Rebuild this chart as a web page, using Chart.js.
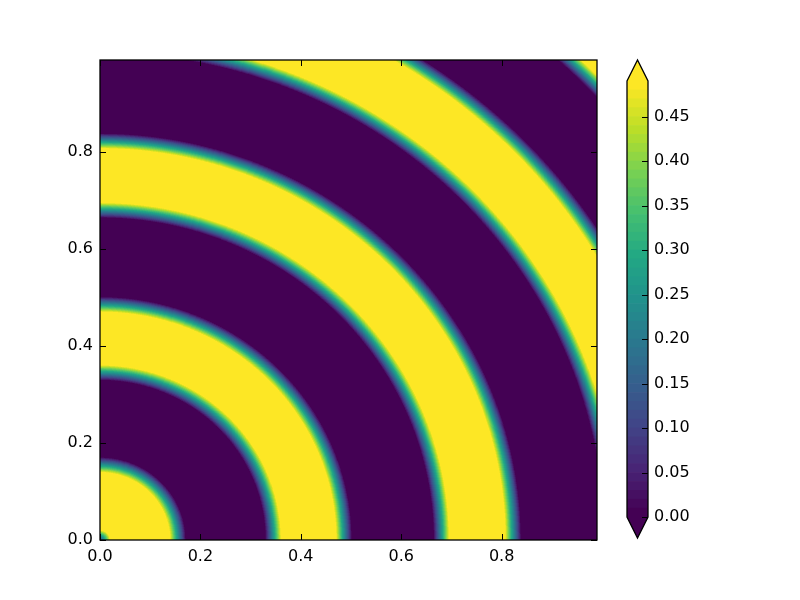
<!DOCTYPE html>
<html lang="en">
<head>
<meta charset="UTF-8">
<title>Rings contour</title>
<script src="https://cdn.jsdelivr.net/npm/chart.js"></script>
<style>
    body { margin: 0; background: #fff; }
    .stage { position: relative; width: 800px; height: 600px; }
    .stage canvas { position: absolute; left: 0; top: 0; }
</style>
</head>
<body>
<div class="stage">
    <canvas id="fieldChart" width="800" height="600"></canvas>
    <canvas id="barChart" width="800" height="600"></canvas>
</div>

<script>
    // radii where the field flips between top and bottom level (yellow at the centre)
    var ringEdges = [0.155, 0.345, 0.486, 0.680, 0.823, 1.020, 1.165, 1.362];
    var rampWidth = 0.032;   // r span of the colour ramp across one edge
    var coreRadius = 0.02;   // little dip right at the origin
    var coreLow = 0.10;

    var levels = [0.00, 0.01, 0.02, 0.03, 0.04, 0.05, 0.06, 0.07, 0.08, 0.09,
                  0.10, 0.11, 0.12, 0.13, 0.14, 0.15, 0.16, 0.17, 0.18, 0.19,
                  0.20, 0.21, 0.22, 0.23, 0.24, 0.25, 0.26, 0.27, 0.28, 0.29,
                  0.30, 0.31, 0.32, 0.33, 0.34, 0.35, 0.36, 0.37, 0.38, 0.39,
                  0.40, 0.41, 0.42, 0.43, 0.44, 0.45, 0.46, 0.47, 0.48, 0.49];
    var xTicks = [0.0, 0.2, 0.4, 0.6, 0.8];
    var yTicks = [0.0, 0.2, 0.4, 0.6, 0.8];
    var cbTicks = [0.00, 0.05, 0.10, 0.15, 0.20, 0.25, 0.30, 0.35, 0.40, 0.45];

    var viridisStops = ['#440154', '#482475', '#414487', '#355f8d', '#2a788e', '#21918c',
                        '#22a884', '#44bf70', '#7ad151', '#bddf26', '#fde725'];
    var font = { family: 'DejaVu Sans', size: 16 };

    function hexRgb(h) {
        return [parseInt(h.slice(1, 3), 16), parseInt(h.slice(3, 5), 16), parseInt(h.slice(5, 7), 16)];
    }
    function viridis(t) {
        var f = Math.max(0, Math.min(1, t)) * (viridisStops.length - 1);
        var i = Math.min(Math.floor(f), viridisStops.length - 2);
        var a = hexRgb(viridisStops[i]), b = hexRgb(viridisStops[i + 1]), u = f - i;
        return [0, 1, 2].map(function (k) { return Math.round(a[k] + (b[k] - a[k]) * u); });
    }
    var nBands = levels.length - 1;
    var bandRgb = [];
    for (var i = 0; i < nBands; i++) bandRgb.push(viridis(i / (nBands - 1)));
    var underRgb = bandRgb[0], overRgb = bandRgb[nBands - 1];
    function css(c) { return 'rgb(' + c.join(',') + ')'; }

    function fieldValue(r) {
        var k = 0;
        for (var i = 1; i < ringEdges.length; i++) {
            if (Math.abs(r - ringEdges[i]) < Math.abs(r - ringEdges[k])) k = i;
        }
        var dir = k % 2 === 0 ? -1 : 1;
        var v = 0.245 + dir * (r - ringEdges[k]) / rampWidth * 0.49;
        if (r < coreRadius) v = Math.min(v, coreLow + (0.49 - coreLow) * r / coreRadius);
        return v;
    }
    function colourFor(v) {
        if (v < levels[0]) return underRgb;
        if (v > levels[nBands]) return overRgb;
        for (var i = 0; i < nBands; i++) {
            if (v <= levels[i + 1]) return bandRgb[i];
        }
        return overRgb;
    }

    // paints the filled contours pixel by pixel through the chart's scales
    var fieldPlugin = {
        id: 'field',
        beforeDatasetsDraw: function (chart) {
            var a = chart.chartArea, xs = chart.scales.x, ys = chart.scales.y;
            var x0 = Math.round(a.left), y0 = Math.round(a.top);
            var w = Math.round(a.right) - x0, h = Math.round(a.bottom) - y0;
            var img = chart.ctx.createImageData(w, h);
            for (var j = 0; j < h; j++) {
                var yv = ys.getValueForPixel(y0 + j + 0.5);
                for (var i = 0; i < w; i++) {
                    var xv = xs.getValueForPixel(x0 + i + 0.5);
                    var c = colourFor(fieldValue(Math.hypot(xv, yv)));
                    var p = (j * w + i) * 4;
                    img.data[p] = c[0];
                    img.data[p + 1] = c[1];
                    img.data[p + 2] = c[2];
                    img.data[p + 3] = 255;
                }
            }
            chart.ctx.putImageData(img, x0, y0);
        },
        afterDraw: function (chart) {
            var ctx = chart.ctx, a = chart.chartArea, xs = chart.scales.x, ys = chart.scales.y;
            ctx.save();
            ctx.strokeStyle = '#000';
            ctx.lineWidth = 1;
            ctx.beginPath();
            xTicks.forEach(function (v) {
                var px = Math.round(xs.getPixelForValue(v)) + 0.5;
                ctx.moveTo(px, a.bottom); ctx.lineTo(px, a.bottom - 6);
                ctx.moveTo(px, a.top); ctx.lineTo(px, a.top + 6);
            });
            yTicks.forEach(function (v) {
                var py = Math.round(ys.getPixelForValue(v)) + 0.5;
                ctx.moveTo(a.left, py); ctx.lineTo(a.left + 6, py);
                ctx.moveTo(a.right, py); ctx.lineTo(a.right - 6, py);
            });
            ctx.stroke();
            ctx.lineWidth = 1.3;
            ctx.strokeRect(a.left, a.top, a.right - a.left, a.bottom - a.top);
            ctx.restore();
        }
    };

    new Chart(document.getElementById('fieldChart'), {
        type: 'scatter',
        data: { datasets: [{ data: [] }] },
        options: {
            responsive: false,
            animation: false,
            layout: { padding: { left: 0, top: 60, right: 203, bottom: 0 } },
            plugins: { legend: { display: false }, tooltip: { enabled: false } },
            scales: {
                x: {
                    type: 'linear', min: 0, max: 0.99,
                    afterBuildTicks: function (s) { s.ticks = xTicks.map(function (v) { return { value: v }; }); },
                    afterFit: function (s) { s.height = 60; },
                    grid: { display: false, drawTicks: false },
                    border: { display: false },
                    ticks: { font: font, color: '#000', padding: 7, maxRotation: 0,
                             callback: function (v) { return v.toFixed(1); } }
                },
                y: {
                    type: 'linear', min: 0, max: 0.99,
                    afterBuildTicks: function (s) { s.ticks = yTicks.map(function (v) { return { value: v }; }); },
                    afterFit: function (s) { s.width = 100; },
                    grid: { display: false, drawTicks: false },
                    border: { display: false },
                    ticks: { font: font, color: '#000', padding: 7,
                             callback: function (v) { return v.toFixed(1); } }
                }
            }
        },
        plugins: [fieldPlugin]
    });

    // colour bar: one floating bar per contour band, plus the two extension triangles
    var bandSets = [];
    for (var b = 0; b < nBands; b++) {
        bandSets.push({
            data: [[levels[b], levels[b + 1]]],
            backgroundColor: css(bandRgb[b]),
            borderWidth: 0,
            grouped: false,
            barPercentage: 1,
            categoryPercentage: 1
        });
    }

    var barFrame = {
        id: 'barFrame',
        afterDraw: function (chart) {
            var ctx = chart.ctx, a = chart.chartArea, ys = chart.scales.y;
            var w = a.right - a.left, mid = (a.left + a.right) / 2;
            ctx.save();
            ctx.fillStyle = css(overRgb);
            ctx.beginPath();
            ctx.moveTo(a.left, a.top); ctx.lineTo(mid, a.top - w); ctx.lineTo(a.right, a.top);
            ctx.closePath(); ctx.fill();
            ctx.fillStyle = css(underRgb);
            ctx.beginPath();
            ctx.moveTo(a.left, a.bottom); ctx.lineTo(mid, a.bottom + w); ctx.lineTo(a.right, a.bottom);
            ctx.closePath(); ctx.fill();

            ctx.strokeStyle = '#000';
            ctx.lineWidth = 1;
            ctx.beginPath();
            cbTicks.forEach(function (v) {
                var py = Math.round(ys.getPixelForValue(v)) + 0.5;
                ctx.moveTo(a.right, py); ctx.lineTo(a.right - 6, py);
            });
            ctx.stroke();

            ctx.lineWidth = 1.3;
            ctx.beginPath();
            ctx.moveTo(a.left, a.top); ctx.lineTo(mid, a.top - w); ctx.lineTo(a.right, a.top);
            ctx.lineTo(a.right, a.bottom); ctx.lineTo(mid, a.bottom + w); ctx.lineTo(a.left, a.bottom);
            ctx.closePath(); ctx.stroke();
            ctx.restore();
        }
    };

    new Chart(document.getElementById('barChart'), {
        type: 'bar',
        data: { labels: [''], datasets: bandSets },
        options: {
            responsive: false,
            animation: false,
            layout: { padding: { left: 627, top: 81, right: 0, bottom: 83 } },
            plugins: { legend: { display: false }, tooltip: { enabled: false } },
            scales: {
                x: { display: false },
                y: {
                    position: 'right', min: 0, max: 0.49,
                    afterBuildTicks: function (s) { s.ticks = cbTicks.map(function (v) { return { value: v }; }); },
                    afterFit: function (s) { s.width = 152; },
                    grid: { display: false, drawTicks: false },
                    border: { display: false },
                    ticks: { font: font, color: '#000', padding: 6,
                             callback: function (v) { return v.toFixed(2); } }
                }
            }
        },
        plugins: [barFrame]
    });
</script>
</body>
</html>
